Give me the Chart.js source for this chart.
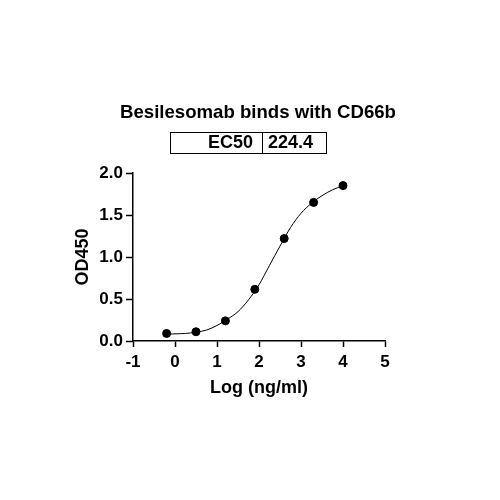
<!DOCTYPE html>
<html>
<head>
<meta charset="utf-8">
<script src="https://cdn.jsdelivr.net/npm/chart.js@4"></script>
<style>
  html, body { margin:0; padding:0; background:#fff; }
  #wrap { position:relative; width:500px; height:500px; font-family: Arial, "Liberation Sans", sans-serif; }
  #title { position:absolute; left:0; width:516px; top:101px; line-height:22px; text-align:center; font-weight:bold; font-size:18.6px; color:#000; }
  #tbl { position:absolute; left:170px; top:132px; width:157px; height:22px; border:1.5px solid #000; box-sizing:border-box; display:flex; font-weight:bold; font-size:18px; color:#000; line-height:19px; }
  #tbl .c1 { width:92px; border-right:1.5px solid #000; text-align:right; padding-right:9px; box-sizing:border-box; }
  #tbl .c2 { flex:1; text-align:left; padding-left:5px; box-sizing:border-box; }
  canvas { position:absolute; left:0; top:0; }
</style>
</head>
<body>
<div id="wrap">
  <canvas id="c" width="500" height="500"></canvas>
  <div id="title">Besilesomab binds with CD66b</div>
  <div id="tbl"><div class="c1">EC50</div><div class="c2">224.4</div></div>
</div>
<script>
// Measured data (log concentration vs OD450)
const logConc = [-0.2, 0.5, 1.2, 1.9, 2.6, 3.3, 4.0];
const od450 = [0.09, 0.11, 0.24, 0.615, 1.22, 1.65, 1.85];
// Fitted curve
const curveX = [-0.2, 0, 0.25, 0.5, 0.75, 1.0, 1.25, 1.5, 1.75, 2.0, 2.25, 2.5, 2.75, 3.0, 3.25, 3.5, 3.75, 4.0];
const curveY = [0.08, 0.085, 0.09, 0.105, 0.13, 0.185, 0.26, 0.35, 0.49, 0.67, 0.9, 1.13, 1.35, 1.52, 1.64, 1.73, 1.80, 1.85];
const xTicks = [-1, 0, 1, 2, 3, 4, 5];
const yTicks = [0.0, 0.5, 1.0, 1.5, 2.0];

const FONT = "Arial, 'Liberation Sans', sans-serif";

new Chart(document.getElementById('c'), {
  type: 'scatter',
  data: {
    datasets: [
      {
        label: 'fit',
        data: curveX.map((x, i) => ({x: x, y: curveY[i]})),
        showLine: true,
        borderColor: '#000',
        borderWidth: 1,
        pointRadius: 0,
        tension: 0.4,
        cubicInterpolationMode: 'monotone',
        fill: false
      },
      {
        label: 'data',
        data: logConc.map((x, i) => ({x: x, y: od450[i]})),
        showLine: false,
        backgroundColor: '#000',
        borderColor: '#000',
        pointRadius: 4,
        pointHoverRadius: 4
      }
    ]
  },
  options: {
    responsive: false,
    animation: false,
    layout: { padding: { left: 70, top: 173, right: 115, bottom: 100 } },
    plugins: { legend: { display: false }, tooltip: { enabled: false }, title: { display: false } },
    scales: {
      x: {
        type: 'linear',
        min: xTicks[0], max: xTicks[xTicks.length - 1],
        afterBuildTicks: (s) => { s.ticks = xTicks.map(v => ({value: v})); },
        afterFit: (s) => { s.height = 59; },
        ticks: { color: '#000', font: { family: FONT, size: 17, weight: 'bold' }, padding: 5, maxRotation: 0,
                 callback: (v) => String(v) },
        grid: { display: true, drawOnChartArea: false, tickLength: 6, tickColor: '#000', tickWidth: 1.5 },
        border: { display: true, color: '#000', width: 1.5 },
        title: { display: true, text: 'Log (ng/ml)', color: '#000', font: { family: FONT, size: 18, weight: 'bold' }, padding: { top: 0, bottom: 1 } }
      },
      y: {
        type: 'linear',
        min: yTicks[0], max: yTicks[yTicks.length - 1],
        afterBuildTicks: (s) => { s.ticks = yTicks.map(v => ({value: v})); },
        afterFit: (s) => { s.width = 63; },
        ticks: { color: '#000', font: { family: FONT, size: 17, weight: 'bold' }, padding: 3,
                 callback: (v) => Number(v).toFixed(1) },
        grid: { display: true, drawOnChartArea: false, tickLength: 7, tickColor: '#000', tickWidth: 1.5 },
        border: { display: true, color: '#000', width: 1.5 },
        title: { display: true, text: 'OD450', color: '#000', font: { family: FONT, size: 18, weight: 'bold' }, padding: { top: 2, bottom: 0 } }
      }
    }
  }
});
</script>
</body>
</html>
